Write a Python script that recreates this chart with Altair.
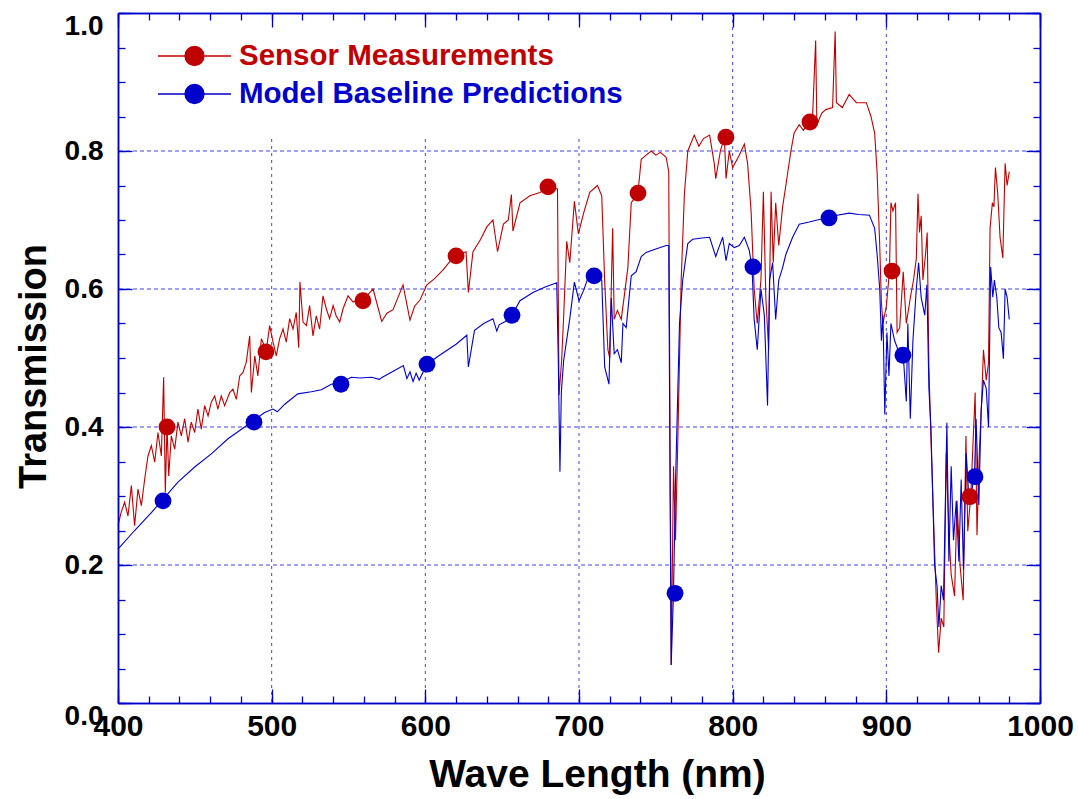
import altair as alt
import pandas as pd

RED = "#C00000"
BLUE = "#0000CC"
S_NAME = "Sensor Measurements"
M_NAME = "Model Baseline Predictions"

sensor_nm = [400, 402, 404.3, 406.5, 408.7, 410.8, 413, 415.2, 417.4, 419.5, 421.7, 423.9, 426, 428.2, 429.7, 430.8, 431.9, 433, 434.7, 436.9,
             439, 441.2, 443.4, 445.6, 447.7, 449.9, 452, 454.2, 456.4, 458.6, 460.7, 462.9, 465, 467.2, 469.4, 472.7, 474.8, 477, 479.2, 481.3,
             483.5, 485.7, 486.8, 489, 491, 493.3, 496.5, 498.7, 500.9, 503, 505.2, 507.4, 509.5, 511.7, 513.9, 516, 517.6, 518.4, 520.4, 522.6,
             524.7, 526.9, 529, 531.2, 533.4, 535.6, 537.7, 540, 542, 544.3, 546.4, 549.7, 553, 558.4, 562, 566, 571.6, 575, 579, 585.5,
             590, 593, 596.5, 601, 606, 611.7, 616, 620, 626.5, 628, 631, 636, 640, 644, 647, 650.8, 654, 656, 657, 661.6,
             668, 674.6, 680, 686, 687, 688.7, 690, 692, 694, 697, 699.6, 703, 707, 712, 714.8, 716.7, 718.8, 720, 721, 721.9,
             722.9, 725, 727.5, 729.7, 731.8, 734, 738.3, 740.5, 743.7, 747, 750, 753, 756.7, 758.4, 759.3, 760, 761.5, 762.8, 764.3, 766.5,
             768.6, 770.8, 775, 778, 781, 785, 788, 789, 792, 794.6, 795.7, 797.8, 800, 804.3, 807.6, 809.7, 812, 814, 816, 818.4,
             820, 821.6, 823.4, 825, 826.4, 828, 830, 832.5, 834.6, 837.9, 840, 843.3, 846, 849.8, 852, 854, 854.8, 858, 860.6, 865,
             866.7, 867.5, 871.4, 875.8, 880.5, 887, 890, 892.4, 894, 895.7, 896.8, 897.8, 900, 902, 903, 904.3, 906, 907, 908.7, 911,
             913, 915.6, 917.7, 919.5, 920.6, 921.6, 922.7, 923.8, 925.5, 926.6, 927.7, 929, 930.7, 932.5, 934, 935.7, 937.4, 939, 940.7, 942.2,
             944.4, 946, 948, 950, 951.8, 953, 955, 957.8, 959, 960.6, 962, 963.2, 965, 966.5, 967.5, 969, 970, 971, 972.5, 974,
             975.8, 977.3, 978.6, 980]
sensor_t = [0.257, 0.276, 0.291, 0.271, 0.315, 0.257, 0.31, 0.286, 0.325, 0.358, 0.373, 0.349, 0.392, 0.358, 0.472, 0.305, 0.402, 0.329, 0.387, 0.368,
            0.407, 0.387, 0.412, 0.378, 0.407, 0.392, 0.426, 0.397, 0.431, 0.416, 0.436, 0.445, 0.426, 0.445, 0.431, 0.45, 0.455, 0.44, 0.474, 0.479,
            0.494, 0.532, 0.45, 0.503, 0.474, 0.528, 0.511, 0.547, 0.523, 0.503, 0.528, 0.542, 0.523, 0.557, 0.542, 0.566, 0.515, 0.61, 0.552, 0.547,
            0.576, 0.532, 0.561, 0.542, 0.59, 0.571, 0.557, 0.576, 0.561, 0.552, 0.571, 0.59, 0.581, 0.586, 0.59, 0.60, 0.553, 0.565, 0.57, 0.606,
            0.555, 0.575, 0.584, 0.606, 0.615, 0.628, 0.64, 0.649, 0.654, 0.595, 0.654, 0.672, 0.69, 0.70, 0.654, 0.694, 0.70, 0.737, 0.684, 0.725,
            0.735, 0.74, 0.748, 0.745, 0.446, 0.496, 0.56, 0.669, 0.638, 0.727, 0.68, 0.71, 0.74, 0.75, 0.735, 0.612, 0.512, 0.50, 0.60, 0.688,
            0.556, 0.569, 0.556, 0.594, 0.631, 0.725, 0.738, 0.788, 0.794, 0.80, 0.794, 0.798, 0.791, 0.77, 0.362, 0.055, 0.343, 0.236, 0.38, 0.613,
            0.738, 0.80, 0.823, 0.807, 0.818, 0.823, 0.782, 0.76, 0.80, 0.82, 0.76, 0.80, 0.776, 0.794, 0.81, 0.782, 0.713, 0.60, 0.55, 0.613,
            0.741, 0.587, 0.512, 0.741, 0.638, 0.725, 0.663, 0.719, 0.75, 0.80, 0.826, 0.838, 0.83, 0.841, 0.85, 0.96, 0.838, 0.855, 0.86, 0.863,
            0.973, 0.87, 0.863, 0.882, 0.87, 0.87, 0.85, 0.826, 0.769, 0.663, 0.58, 0.55, 0.575, 0.625, 0.725, 0.713, 0.725, 0.537, 0.544, 0.625,
            0.55, 0.587, 0.613, 0.644, 0.738, 0.682, 0.706, 0.613, 0.65, 0.682, 0.487, 0.387, 0.268, 0.149, 0.073, 0.123, 0.11, 0.362, 0.249, 0.186,
            0.155, 0.293, 0.199, 0.149, 0.387, 0.249, 0.302, 0.45, 0.243, 0.368, 0.437, 0.512, 0.468, 0.493, 0.688, 0.725, 0.719, 0.776, 0.738, 0.675,
            0.645, 0.782, 0.75, 0.77]

model_nm = [400, 410.8, 421.7, 429.3, 439, 449.9, 460.7, 471.6, 482.4, 487.9, 495.4, 500.9, 503.7, 508.5, 517, 525.8, 532.3, 538.8, 544.9, 551.8,
            557.5, 565, 570, 572, 580, 585.7, 588, 590, 592, 594, 596, 601, 610, 620, 627, 628, 632, 638, 644, 646.5,
            648, 652, 656.4, 661.6, 670, 678, 685.5, 686.5, 687.6, 688.5, 690, 694, 697, 700, 703, 707, 709.8, 714.8, 716.7, 719.5,
            721, 722.9, 725, 727.5, 728.6, 730.7, 734, 737.2, 740.5, 743.7, 750, 756.7, 758.4, 759.3, 760, 761.5, 762.8, 765.4, 767.5, 770.8,
            774, 780, 785, 789, 791, 793.5, 795.7, 797.8, 801, 804.3, 807.6, 810.8, 812.6, 814, 816, 818.4, 820.6, 822.7, 824, 826,
            828, 830, 832.5, 834.6, 839, 843.3, 849.8, 855, 861.7, 868, 875.8, 882, 889, 892.4, 894, 895.7, 896.8, 897.8, 899, 900.4,
            901.7, 903, 905.4, 907.6, 909.7, 911, 913, 914, 915.6, 917.3, 919.5, 921, 922.7, 925, 926.4, 927.7, 929, 931.4, 933, 934.2,
            935.7, 937.2, 939.4, 940.7, 942.2, 943.7, 945.5, 947.2, 948.7, 950.2, 952, 954, 957.4, 958.4, 960.2, 961.7, 963.2, 965, 966.5, 967.9,
            969.3, 970.3, 971.9, 973.2, 974.7, 976.2, 977.3, 978.6, 980]
model_t = [0.223, 0.25, 0.276, 0.295, 0.32, 0.342, 0.361, 0.383, 0.40, 0.409, 0.421, 0.426, 0.422, 0.433, 0.448, 0.451, 0.454, 0.462, 0.464, 0.472,
           0.471, 0.472, 0.469, 0.472, 0.482, 0.489, 0.47, 0.48, 0.466, 0.478, 0.468, 0.491, 0.505, 0.52, 0.533, 0.487, 0.54, 0.55, 0.557, 0.539,
           0.548, 0.553, 0.562, 0.583, 0.595, 0.603, 0.609, 0.50, 0.335, 0.45, 0.496, 0.557, 0.61, 0.583, 0.598, 0.623, 0.619, 0.613, 0.487, 0.462,
           0.587, 0.506, 0.512, 0.493, 0.55, 0.544, 0.619, 0.625, 0.647, 0.653, 0.658, 0.663, 0.663, 0.30, 0.055, 0.161, 0.318, 0.55, 0.613, 0.666,
           0.672, 0.674, 0.675, 0.647, 0.66, 0.675, 0.641, 0.666, 0.66, 0.663, 0.675, 0.656, 0.631, 0.556, 0.512, 0.60, 0.562, 0.431, 0.613, 0.638,
           0.556, 0.613, 0.631, 0.65, 0.675, 0.694, 0.697, 0.70, 0.703, 0.707, 0.71, 0.708, 0.707, 0.688, 0.65, 0.60, 0.525, 0.562, 0.418, 0.537,
           0.474, 0.55, 0.525, 0.512, 0.506, 0.504, 0.437, 0.55, 0.412, 0.525, 0.60, 0.638, 0.587, 0.562, 0.606, 0.456, 0.40, 0.20, 0.17, 0.11,
           0.17, 0.149, 0.406, 0.205, 0.343, 0.236, 0.293, 0.205, 0.324, 0.193, 0.362, 0.287, 0.331, 0.412, 0.287, 0.424, 0.468, 0.456, 0.40, 0.632,
           0.588, 0.613, 0.588, 0.544, 0.537, 0.499, 0.60, 0.588, 0.556]

sensor_marker_nm = [431.9, 496.3, 559.4, 620.0, 679.8, 738.4, 795.6, 850.3, 903.7, 954.4]
sensor_marker_t = [0.400, 0.509, 0.583, 0.648, 0.748, 0.739, 0.820, 0.842, 0.626, 0.299]
model_marker_nm = [429.3, 488.5, 545.1, 601.1, 656.4, 709.8, 762.5, 813.2, 862.7, 910.8, 957.7]
model_marker_t = [0.293, 0.407, 0.462, 0.491, 0.562, 0.619, 0.159, 0.632, 0.703, 0.504, 0.328]

x_label_values = [400, 500, 600, 700, 800, 900, 1000]
x_tick_values = list(range(400, 1001, 20))
y_label_values = [0.0, 0.2, 0.4, 0.6, 0.8, 1.0]
y_tick_values = [round(i * 0.05, 2) for i in range(21)]

sensor_df = pd.DataFrame({"nm": sensor_nm, "t": sensor_t})
model_df = pd.DataFrame({"nm": model_nm, "t": model_t})
sensor_pts = pd.DataFrame({"nm": sensor_marker_nm, "t": sensor_marker_t, "series": S_NAME})
model_pts = pd.DataFrame({"nm": model_marker_nm, "t": model_marker_t})
vgrid_df = pd.DataFrame({"nm": x_label_values[1:-1]})
hgrid_df = pd.DataFrame({"t": y_label_values[1:-1]})

W, H = 922, 690
BOLD = "Liberation Sans, Arial, sans-serif"
GRID = "#2d2df0"

xscale = alt.Scale(domain=[400, 1000], nice=False, zero=False)
yscale = alt.Scale(domain=[0, 1], nice=False, zero=False)
cscale = alt.Scale(domain=[S_NAME, M_NAME], range=[RED, BLUE])

tick_common = dict(labels=False, ticks=True, tickColor=BLUE, tickWidth=1.3, tickOpacity=1,
                   domain=True, domainColor=BLUE, domainWidth=1.5, grid=False,
                   title=None, zindex=3)

x_main = alt.Axis(orient="bottom", values=x_label_values, format="d", ticks=False, tickSize=0,
                  domain=False, grid=False,
                  labelFont=BOLD, labelFontSize=30, labelFontWeight="bold", labelColor="black",
                  labelPadding=8, labelFlush=False, labelOverlap=False,
                  title="Wave Length (nm)", titleFont=BOLD, titleFontSize=39, titleFontWeight="bold",
                  titleColor="black", titleX=479, titleY=83, titleBaseline="alphabetic", titleAlign="center")
y_main = alt.Axis(orient="left", values=y_label_values, format=".1f", ticks=False, tickSize=0,
                  domain=False, grid=False,
                  labelFont=BOLD, labelFontSize=28, labelFontWeight="bold", labelColor="black",
                  labelPadding=15, labelFlush=False, labelOverlap=False, labelBaseline="middle",
                  labelOffset={"condition": {"test": "datum.value == 0 || datum.value == 1", "value": 13}, "value": 0},
                  title="Transmission", titleFont=BOLD, titleFontSize=38, titleFontWeight="bold",
                  titleColor="black", titleX=-73, titleY=353, titleBaseline="alphabetic", titleAlign="center",
                  titleAngle=270)

# minor ticks (every 20 nm / 0.05), drawn inward on all four edges
x_bot_ticks = alt.Axis(orient="top", offset=-H, values=x_tick_values, tickSize=7, **tick_common)
x_top_ticks = alt.Axis(orient="bottom", offset=-H, values=x_tick_values, tickSize=7, **tick_common)
y_left_ticks = alt.Axis(orient="right", offset=-W, values=y_tick_values, tickSize=7, **tick_common)
y_right_ticks = alt.Axis(orient="left", offset=-W, values=y_tick_values, tickSize=7, **tick_common)
# major ticks (every 100 nm / 0.2), longer
x_bot_major = alt.Axis(orient="top", offset=-H, values=x_label_values, tickSize=14, **tick_common)
x_top_major = alt.Axis(orient="bottom", offset=-H, values=x_label_values, tickSize=14, **tick_common)
y_left_major = alt.Axis(orient="right", offset=-W, values=y_label_values, tickSize=14, **tick_common)
y_right_major = alt.Axis(orient="left", offset=-W, values=y_label_values, tickSize=14, **tick_common)

series_color_expr = f"datum.value == '{S_NAME}' ? '{RED}' : '{BLUE}'"
legend = alt.Legend(
    orient="none", legendX=15, legendY=0, direction="vertical", title=None,
    symbolType="M-1,0L1,0M0.26,0A0.26,0.26,0,1,1,-0.26,0A0.26,0.26,0,1,1,0.26,0Z",
    symbolSize=5329, symbolStrokeWidth=1.3, symbolStrokeColor={"expr": series_color_expr},
    symbolOpacity=1, clipHeight=38, rowPadding=0, labelOffset=7,
    labelFont=BOLD, labelFontSize=29.5, labelFontWeight="bold", labelColor={"expr": series_color_expr},
    labelLimit=0, labelBaseline="middle", fillColor="white", padding=24,
)

vgrid = alt.Chart(vgrid_df).mark_rule(color=GRID, strokeWidth=1, strokeDash=[3, 4], opacity=0.9).encode(
    x=alt.X("nm:Q", scale=xscale, axis=x_bot_major),
)
hgrid = alt.Chart(hgrid_df).mark_rule(color=GRID, strokeWidth=1, strokeDash=[4, 3], opacity=0.9).encode(
    y=alt.Y("t:Q", scale=yscale, axis=y_left_major),
)
red_line = alt.Chart(sensor_df).mark_line(strokeWidth=1.1, color=RED).encode(
    x=alt.X("nm:Q", scale=xscale, axis=x_main),
    y=alt.Y("t:Q", scale=yscale, axis=y_main),
)
blue_line = alt.Chart(model_df).mark_line(strokeWidth=1.1, color=BLUE).encode(
    x=alt.X("nm:Q", scale=xscale, axis=x_bot_ticks),
    y=alt.Y("t:Q", scale=yscale, axis=y_left_ticks),
)
blue_points = alt.Chart(model_pts).mark_circle(size=283, opacity=1, color=BLUE).encode(
    x=alt.X("nm:Q", scale=xscale, axis=x_top_major),
    y=alt.Y("t:Q", scale=yscale, axis=y_right_major),
)
red_points = alt.Chart(sensor_pts).mark_circle(size=283, opacity=1).encode(
    x=alt.X("nm:Q", scale=xscale, axis=x_top_ticks),
    y=alt.Y("t:Q", scale=yscale, axis=y_right_ticks),
    color=alt.Color("series:N", scale=cscale, legend=legend),
)

chart = alt.layer(vgrid, hgrid, red_line, blue_line, blue_points, red_points).resolve_axis(
    x="independent", y="independent"
).properties(
    width=W, height=H,
    padding={"left": 118, "top": 13, "right": 38, "bottom": 96},
    autosize=alt.AutoSizeParams(type="none"),
    background="white",
).configure_view(stroke=None)

chart.save("out.html", embed_options={"renderer": "svg", "actions": False})
